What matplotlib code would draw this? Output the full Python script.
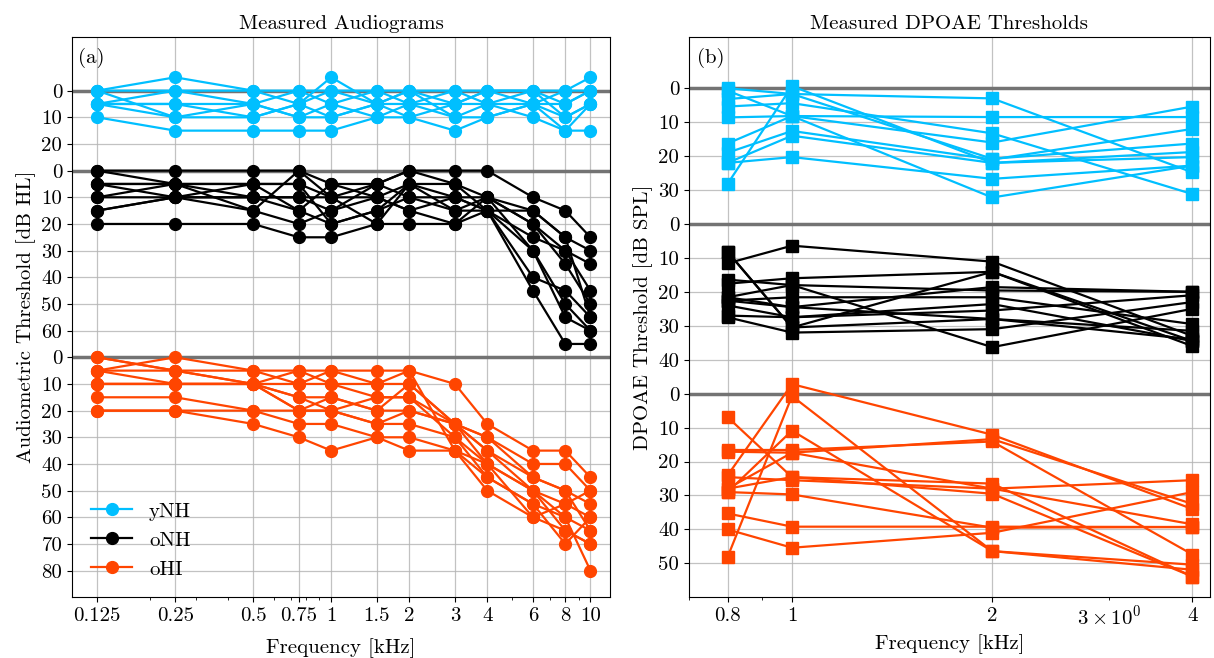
import numpy as np
import matplotlib

matplotlib.use("Agg")
import matplotlib.pyplot as plt

plt.rcParams["font.family"] = "cmr10"
plt.rcParams["mathtext.fontset"] = "cm"
plt.rcParams["axes.formatter.use_mathtext"] = True
plt.rcParams["font.size"] = 15

# audiogram frequencies [kHz] and thresholds [dB HL], one row per listener
freqs_ag = [0.125, 0.25, 0.5, 0.75, 1, 1.5, 2, 3, 4, 6, 8, 10]
freq_labels_ag = ["0.125", "0.25", "0.5", "0.75", "1", "1.5", "2", "3", "4", "6", "8", "10"]

ag_ynh = [
    [0, -5, 0, 0, 0, 0, 0, 0, 0, 0, 0, 0],
    [0, 0, 0, 5, -5, 5, 0, 5, 0, 5, 5, 0],
    [5, 0, 5, 0, 5, 0, 5, 0, 5, 0, 10, 5],
    [5, 5, 10, 5, 0, 5, 5, 10, 10, 5, 0, -5],
    [5, 10, 5, 10, 10, 5, 10, 5, 5, 10, 15, 15],
    [10, 15, 15, 15, 15, 10, 10, 15, 10, 5, 10, 5],
    [5, 5, 5, 10, 5, 10, 5, 5, 0, 0, 5, 0],
    [0, 10, 10, 5, 10, 5, 0, 10, 5, 5, 15, 5],
]
ag_onh = [
    [0, 0, 0, 0, 5, 5, 0, 0, 0, 10, 15, 25],
    [5, 5, 5, 5, 10, 10, 5, 5, 10, 15, 25, 30],
    [10, 10, 10, 10, 15, 5, 10, 10, 10, 20, 30, 35],
    [15, 10, 5, 15, 20, 15, 5, 15, 15, 25, 30, 45],
    [20, 20, 20, 25, 25, 20, 20, 20, 15, 40, 45, 55],
    [5, 10, 15, 20, 15, 10, 15, 10, 15, 45, 65, 65],
    [10, 5, 10, 15, 5, 10, 15, 20, 10, 30, 50, 60],
    [15, 10, 10, 10, 10, 20, 5, 10, 15, 30, 55, 60],
    [0, 5, 5, 5, 20, 15, 10, 15, 10, 20, 35, 50],
    [5, 5, 15, 0, 10, 5, 0, 5, 15, 15, 25, 55],
]
ag_ohi = [
    [0, 5, 5, 5, 5, 5, 5, 10, 25, 35, 35, 45],
    [5, 0, 5, 10, 10, 15, 15, 25, 30, 40, 40, 50],
    [5, 5, 10, 10, 5, 10, 10, 25, 35, 45, 50, 55],
    [10, 10, 10, 15, 15, 20, 20, 25, 40, 50, 55, 60],
    [15, 15, 20, 20, 20, 25, 25, 30, 45, 55, 60, 65],
    [20, 20, 20, 25, 25, 30, 30, 35, 50, 60, 65, 70],
    [20, 20, 25, 30, 35, 30, 35, 35, 40, 50, 60, 80],
    [10, 10, 10, 20, 20, 25, 20, 25, 30, 45, 50, 65],
    [5, 10, 10, 5, 10, 10, 5, 35, 45, 55, 70, 60],
    [0, 5, 10, 20, 15, 20, 10, 25, 35, 50, 65, 70],
    [10, 10, 10, 15, 20, 15, 15, 30, 40, 60, 55, 50],
]

# DPOAE frequencies [kHz] and thresholds [dB SPL]
freqs_dp = [0.8, 1, 2, 4]
freq_labels_dp = ["0.8", "1", "2", "4"]

dp_ynh = [
    [28.2, -0.6, 22.0, 20.3],
    [0.7, 8.2, 32.2, 22.8],
    [3.2, 1.7, 3.0, 24.8],
    [8.6, 8.2, 8.5, 8.5],
    [16.3, 8.2, 16.0, 5.4],
    [19.0, 12.6, 21.0, 12.0],
    [22.0, 14.0, 22.0, 18.8],
    [22.0, 20.3, 26.7, 22.8],
    [5.4, 4.4, 13.3, 31.2],
    [0.0, 1.7, 20.8, 16.3],
]
dp_onh = [
    [11.6, 6.4, 11.1, 33.0],
    [8.2, 30.5, 14.1, 34.5],
    [17.6, 16.0, 14.1, 36.0],
    [16.4, 18.0, 36.3, 25.0],
    [21.6, 24.5, 18.6, 20.0],
    [22.6, 21.6, 21.6, 29.5],
    [24.0, 27.5, 23.6, 34.5],
    [27.0, 27.5, 25.5, 21.0],
    [27.5, 32.0, 31.0, 23.0],
    [8.2, 30.5, 28.0, 31.5],
    [21.6, 18.0, 19.6, 20.0],
    [22.6, 24.5, 28.0, 34.0],
]
dp_ohi = [
    [48.2, 0.7, 46.4, 51.9],
    [24.1, -2.8, 12.1, 34.0],
    [6.9, 24.6, 29.5, 53.9],
    [17.1, 17.4, 13.4, 32.5],
    [16.6, 16.6, 14.1, 47.4],
    [29.0, 10.9, 46.4, 50.4],
    [28.0, 17.4, 28.0, 25.5],
    [24.6, 25.5, 28.0, 38.5],
    [29.0, 29.7, 39.5, 39.3],
    [35.3, 39.2, 39.2, 39.3],
    [40.0, 45.4, 41.0, 29.0],
    [28.0, 24.6, 26.5, 53.9],
]

groups = ["yNH", "oNH", "oHI"]
colors = {"yNH": "deepskyblue", "oNH": "black", "oHI": "orangered"}

# vertical stacking of the groups (plot coordinate = threshold + offset)
offs_ag = {"yNH": -100, "oNH": -70, "oHI": 0}
ticks_ag = {"yNH": [0, 10, 20], "oNH": [0, 10, 20, 30, 40, 50, 60], "oHI": [0, 10, 20, 30, 40, 50, 60, 70, 80]}
offs_dp = {"yNH": -90, "oNH": -50, "oHI": 0}
ticks_dp = {"yNH": [0, 10, 20, 30], "oNH": [0, 10, 20, 30, 40], "oHI": [0, 10, 20, 30, 40, 50]}


def _setup_y(ax, offs, ticks):
    pos, lab = [], []
    for g in groups:
        pos += [t + offs[g] for t in ticks[g]]
        lab += [str(t) for t in ticks[g]]
        ax.axhline(offs[g], color="0.45", lw=2.5, zorder=1)
    ax.set_yticks(pos)
    ax.set_yticklabels(lab)


fig = plt.figure(figsize=(12.14, 6.58), dpi=100)
ax1 = fig.add_axes([0.0593, 0.0923, 0.4432, 0.851])
ax2 = fig.add_axes([0.5675, 0.0923, 0.4292, 0.851])

data_ag = {"yNH": ag_ynh, "oNH": ag_onh, "oHI": ag_ohi}
for g in groups:
    for i, row in enumerate(data_ag[g]):
        ax1.plot(freqs_ag, np.array(row) + offs_ag[g], "-o", color=colors[g], lw=1.6, ms=8.5,
                 label=g if i == 0 else None, zorder=3)

data_dp = {"yNH": dp_ynh, "oNH": dp_onh, "oHI": dp_ohi}
for g in groups:
    for row in data_dp[g]:
        ax2.plot(freqs_dp, np.array(row) + offs_dp[g], "-s", color=colors[g], lw=1.6, ms=8, zorder=3)

ax1.set_xscale("log")
ax1.set_xlim(0.1, 11.9)
ax1.set_xticks(freqs_ag)
ax1.set_xticklabels(freq_labels_ag)
_setup_y(ax1, offs_ag, ticks_ag)
ax1.set_ylim(90, -120)
ax1.set_title("Measured Audiograms", fontsize=15)
ax1.set_xlabel("Frequency [kHz]", labelpad=9.5)
ax1.set_ylabel("Audiometric Threshold [dB HL]")
ax1.text(0.012, 0.963, "(a)", transform=ax1.transAxes, ha="left", va="center")
ax1.legend(loc="lower left", frameon=False, fontsize=15)

ax2.set_xscale("log")
ax2.set_xlim(0.7, 4.25)
ax2.set_xticks(freqs_dp)
ax2.set_xticklabels(freq_labels_dp)
_setup_y(ax2, offs_dp, ticks_dp)
ax2.set_ylim(60, -105)
ax2.set_title("Measured DPOAE Thresholds", fontsize=15)
ax2.set_xlabel("Frequency [kHz]")
ax2.set_ylabel("DPOAE Threshold [dB SPL]")
ax2.text(0.015, 0.963, "(b)", transform=ax2.transAxes, ha="left", va="center")

for a in (ax1, ax2):
    a.grid(True, which="major", color="0.7", lw=0.9, alpha=0.8, zorder=0)
    a.set_axisbelow(True)

fig.savefig("out.png", dpi=100)
